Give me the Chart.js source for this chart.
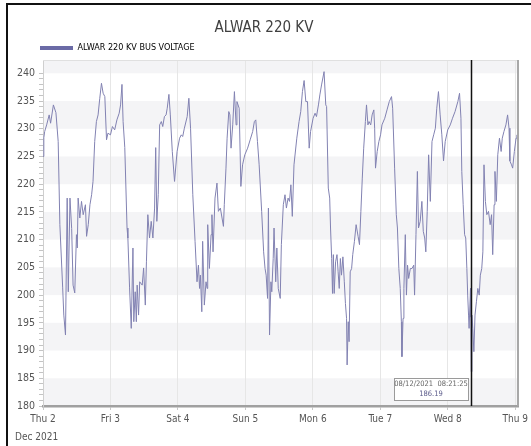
<!DOCTYPE html>
<html>
<head>
<meta charset="utf-8">
<title>ALWAR 220 KV</title>
<script src="https://cdn.jsdelivr.net/npm/chart.js@4.4.0/dist/chart.umd.min.js"></script>
<style>
  html, body { margin: 0; padding: 0; background: #fff; }
  #wrap { position: relative; width: 531px; height: 446px; }
  /* black edge of the screenshot (left + top only) */
  #frame { position: absolute; left: 6px; top: 3px; right: 0; bottom: 0;
           border-left: 2px solid #111; border-top: 2px solid #111; pointer-events: none; }
</style>
</head>
<body>
<div id="wrap">
  <canvas id="voltageChart"></canvas>
  <div id="frame"></div>
</div>
<script>
// --- Data (hours counted from Thu 02/12/2021 00:00) ---
const seriesName = "ALWAR 220 KV BUS VOLTAGE";
const dayTicks = [0, 24, 48, 72, 96, 120, 144, 168];
const dayLabels = ["Thu 2", "Fri 3", "Sat 4", "Sun 5", "Mon 6", "Tue 7", "Wed 8", "Thu 9"];
const monthLabel = "Dec 2021";
const yLabels = [180, 185, 190, 195, 200, 205, 210, 215, 220, 225, 230, 235, 240];

const hours = [
  0.0, 0.3, 0.6, 1.3, 2.2, 2.7, 3.7, 4.6, 5.4, 6.0, 7.0, 7.4, 8.0, 8.6, 9.0, 9.6, 10.2, 10.7, 11.3, 11.9,
  12.2, 12.5, 13.1, 13.7, 14.3, 15.1, 15.5, 16.1, 16.7, 17.3, 17.8, 18.4, 19.0, 19.6, 20.2, 20.8, 21.4, 22.0, 22.6, 23.1,
  24.0, 24.7, 25.5, 26.3, 27.1, 27.6, 28.1, 28.5, 29.1, 29.9, 30.2, 30.8, 31.4, 32.0, 32.3, 32.8, 33.2, 33.5, 34.0, 34.4,
  35.3, 35.8, 36.4, 36.8, 37.3, 37.9, 38.5, 39.1, 39.7, 40.1, 40.5, 41.0, 41.5, 42.1, 42.6, 43.2, 43.8, 44.2, 44.8, 45.3,
  46.0, 46.8, 47.7, 48.6, 49.2, 49.7, 50.3, 51.3, 51.9, 52.5, 53.3, 54.1, 54.8, 55.3, 55.7, 56.0, 56.5, 56.8, 57.4, 58.0,
  58.4, 58.6, 59.2, 59.8, 60.1, 60.5, 61.2, 61.9, 62.4, 63.1, 63.7, 64.2, 64.5, 65.1, 65.5, 66.1, 66.5, 66.9, 67.5, 68.1,
  68.7, 69.0, 69.8, 70.4, 71.0, 71.8, 72.8, 73.7, 74.6, 75.2, 75.7, 76.3, 76.9, 77.8, 78.5, 79.0, 79.4, 79.9, 80.2, 80.6,
  81.1, 81.4, 81.9, 82.2, 82.8, 83.2, 83.7, 84.4, 84.8, 85.5, 86.1, 86.6, 87.2, 87.7, 88.2, 88.7, 89.3, 90.3, 91.1, 91.7,
  92.3, 92.9, 93.5, 94.1, 94.7, 95.2, 96.1, 96.8, 97.3, 98.0, 98.5, 99.1, 100.0, 100.6, 100.9, 101.5, 102.0, 102.3, 102.7, 103.0,
  103.3, 103.6, 104.1, 104.6, 105.0, 105.4, 105.8, 106.2, 106.7, 107.2, 107.6, 108.0, 108.2, 108.6, 108.9, 109.3, 109.8, 110.2, 110.8, 111.4,
  112.1, 112.6, 113.1, 113.6, 114.1, 114.7, 115.1, 115.6, 116.0, 116.6, 117.1, 117.7, 118.0, 118.3, 118.9, 119.5, 120.1, 120.6, 121.6, 122.4,
  123.2, 124.0, 124.4, 125.1, 125.7, 126.1, 126.6, 127.1, 127.5, 127.7, 128.1, 128.4, 128.9, 129.3, 129.7, 130.1, 130.7, 131.3, 131.9, 132.2,
  132.7, 133.2, 133.6, 134.2, 134.8, 135.3, 135.8, 136.2, 136.7, 137.2, 137.8, 138.4, 139.0, 139.6, 140.1, 140.7, 141.3, 141.9, 142.5, 143.1,
  144.0, 144.9, 145.7, 146.6, 147.6, 148.2, 148.7, 149.0, 149.5, 150.0, 150.4, 150.8, 151.1, 151.4, 151.6, 152.1, 152.25, 152.36, 152.6, 152.9,
  153.3, 153.7, 154.2, 154.7, 155.2, 155.6, 156.1, 156.5, 156.9, 157.4, 157.9, 158.5, 159.1, 159.6, 160.0, 160.5, 160.8, 161.3, 161.8, 162.4,
  163.0, 163.4, 164.0, 164.7, 165.3, 165.8, 166.1, 166.7, 167.1, 167.7, 168.3, 168.6
];
const voltage = [
  225.0, 228.4, 229.5, 230.7, 232.5, 231.0, 234.3, 232.9, 227.7, 212.7, 201.3, 196.4, 192.8, 217.5, 200.6, 217.5, 212.0, 201.8, 200.4, 210.9,
  208.5, 217.5, 213.9, 216.9, 214.5, 216.3, 210.6, 212.7, 216.3, 218.1, 220.5, 227.7, 231.3, 232.5, 235.5, 238.2, 236.4, 235.8, 228.0, 229.2,
  228.9, 230.4, 229.8, 231.6, 232.8, 234.3, 238.0, 231.3, 226.6, 212.1, 210.3, 201.3, 194.0, 208.5, 195.2, 200.6, 195.2, 201.8, 196.4, 202.4,
  201.8, 204.9, 198.2, 206.0, 214.5, 210.3, 213.3, 210.3, 215.7, 226.6, 213.3, 218.1, 230.7, 231.3, 230.4, 232.2, 232.5, 233.7, 236.2, 232.5,
  225.9, 220.5, 225.9, 228.3, 228.9, 228.6, 230.1, 232.2, 235.5, 230.1, 218.1, 209.7, 202.4, 205.4, 201.2, 203.6, 197.0, 209.7, 198.2, 202.4,
  201.2, 212.7, 204.8, 210.9, 214.5, 207.8, 217.5, 220.2, 215.1, 215.7, 213.9, 212.4, 216.3, 222.9, 228.3, 233.1, 232.5, 226.5, 230.7, 236.7,
  230.7, 234.9, 233.7, 219.6, 223.5, 225.3, 226.5, 228.0, 229.5, 231.3, 231.6, 227.7, 223.5, 215.1, 207.8, 204.8, 203.6, 199.4, 215.7, 192.8,
  202.4, 200.6, 206.6, 212.1, 202.4, 208.5, 201.2, 199.4, 209.1, 216.3, 218.1, 215.7, 217.5, 216.9, 219.9, 214.2, 223.5, 228.3, 231.3, 233.1,
  236.7, 238.7, 234.9, 234.9, 226.5, 229.5, 231.9, 232.8, 232.2, 234.3, 236.1, 237.9, 240.3, 234.3, 234.0, 219.3, 217.5, 212.1, 206.6, 200.3,
  207.3, 200.3, 206.0, 207.3, 204.2, 201.2, 206.6, 203.6, 206.9, 202.4, 198.5, 195.8, 187.4, 195.2, 191.6, 204.2, 204.8, 207.3, 209.7, 212.7,
  210.6, 209.1, 215.1, 221.1, 226.5, 231.3, 234.3, 230.7, 231.3, 230.7, 232.5, 233.4, 230.1, 222.9, 225.9, 227.7, 228.9, 230.7, 231.9, 233.4,
  234.9, 235.8, 233.7, 222.9, 214.5, 212.1, 204.8, 201.2, 195.2, 188.9, 195.8, 201.2, 210.9, 200.0, 205.4, 203.0, 204.8, 204.8, 205.4, 200.0,
  210.9, 222.3, 212.1, 213.3, 216.9, 211.5, 210.3, 207.8, 215.1, 225.3, 216.9, 227.7, 228.9, 230.1, 233.7, 236.7, 232.5, 228.9, 224.2, 227.7,
  229.8, 230.7, 231.9, 233.1, 234.9, 236.4, 231.9, 222.3, 216.3, 210.9, 210.3, 204.8, 200.0, 196.4, 194.0, 201.2, 196.0, 186.19, 196.4, 194.0,
  189.8, 196.4, 198.8, 201.2, 200.0, 203.6, 204.8, 207.8, 223.5, 216.9, 214.5, 215.1, 212.7, 214.5, 207.3, 216.3, 222.3, 216.9, 225.3, 228.3,
  225.9, 228.3, 229.5, 230.7, 232.5, 230.1, 224.2, 223.5, 222.9, 225.9, 228.3, 228.9
];

// crosshair readout shown in the reference
const cursorHour = 152.36;            // 08/12/2021 08:21:25
const cursorTime = "08/12/2021  08:21:25";
const cursorValue = "186.19";

const FONT = "'DejaVu Sans Condensed', 'Liberation Sans', sans-serif";
Chart.defaults.font.family = FONT;
Chart.defaults.color = "#555";

// alternating light bands behind the plot (every other 5 kV step)
const bandPlugin = {
  id: "bands",
  afterLayout(chart) {
    // legend sits just above the plot, starting near the y axis
    chart.legend.left = 36;
    chart.legend.top = 39.5;
  },
  beforeDraw(chart) {
    const { ctx, chartArea: a, scales: { y } } = chart;
    ctx.save();
    ctx.fillStyle = "#f4f4f6";
    for (let v = yLabels[0]; v < y.max; v += 10) {
      const top = y.getPixelForValue(Math.min(v + 5, y.max));
      const bottom = y.getPixelForValue(v);
      ctx.fillRect(a.left, top, a.right - a.left, bottom - top);
    }
    ctx.restore();
  }
};

// plot frame, crosshair line and its readout box
const cursorPlugin = {
  id: "cursor",
  afterDatasetsDraw(chart) {
    const { ctx, chartArea: a, scales: { x } } = chart;
    const cx = Math.round(x.getPixelForValue(cursorHour)) + 0.5;
    ctx.save();
    ctx.strokeStyle = "#e0e0e0";
    ctx.lineWidth = 1;
    ctx.beginPath();
    ctx.moveTo(a.left, a.top + 0.5);
    ctx.lineTo(a.right, a.top + 0.5);
    ctx.stroke();
    ctx.strokeStyle = "#a8a8a8";
    ctx.lineWidth = 2;
    ctx.beginPath();
    ctx.moveTo(a.right, a.top);
    ctx.lineTo(a.right, a.bottom);
    ctx.stroke();

    ctx.strokeStyle = "#111";
    ctx.lineWidth = 1.5;
    ctx.beginPath();
    ctx.moveTo(cx, a.top);
    ctx.lineTo(cx, a.bottom);
    ctx.stroke();

    const bw = 74, bh = 22;
    const bx = Math.round(cx - 4 - bw), by = Math.round(a.bottom - 6 - bh);
    ctx.fillStyle = "#fff";
    ctx.fillRect(bx, by, bw, bh);
    ctx.strokeStyle = "#9a9a9a";
    ctx.lineWidth = 1;
    ctx.strokeRect(bx + 0.5, by + 0.5, bw, bh);
    ctx.font = "7.5px " + FONT;
    ctx.textAlign = "center";
    ctx.textBaseline = "middle";
    ctx.fillStyle = "#666";
    ctx.fillText(cursorTime, bx + bw / 2, by + 6.5);
    ctx.fillStyle = "#5a5a8a";
    ctx.fillText(cursorValue, bx + bw / 2, by + 16);
    ctx.restore();
  },
  afterDraw(chart) {
    // second line under the first x label
    const { ctx, scales: { x } } = chart;
    ctx.save();
    ctx.font = "10px " + FONT;
    ctx.fillStyle = "#555";
    ctx.textAlign = "left";
    ctx.textBaseline = "middle";
    ctx.fillText(monthLabel, x.getPixelForValue(dayTicks[0]) - 28, 437);
    ctx.restore();
  }
};

const ctx = document.getElementById("voltageChart").getContext("2d");
new Chart(ctx, {
  type: "line",
  data: {
    datasets: [{
      label: seriesName,
      data: hours.map((h, i) => ({ x: h, y: voltage[i] })),
      borderColor: "#8282b2",
      backgroundColor: "#6b6ba6",
      borderWidth: 1,
      pointRadius: 0,
      tension: 0,
      fill: false
    }]
  },
  options: {
    responsive: true,
    maintainAspectRatio: false,
    animation: false,
    events: [],
    layout: { padding: { top: 19, left: 8, right: 11, bottom: 0 } },
    plugins: {
      title: {
        display: true,
        text: "ALWAR 220 KV",
        color: "#404040",
        font: { size: 15, weight: "normal" },
        padding: 0
      },
      legend: {
        align: "start",
        labels: {
          boxWidth: 33,
          boxHeight: 4,
          padding: 4,
          color: "#444",
          font: { size: 9 },
          generateLabels: () => [{
            text: seriesName, fillStyle: "#6b6ba6", strokeStyle: "#6b6ba6",
            lineWidth: 0, hidden: false, datasetIndex: 0
          }]
        }
      },
      tooltip: { enabled: false }
    },
    scales: {
      x: {
        type: "linear",
        min: 0,
        max: 169,
        afterBuildTicks: s => { s.ticks = dayTicks.map(v => ({ value: v })); },
        afterFit: s => { s.height = 40; },
        ticks: {
          autoSkip: false,
          maxRotation: 0,
          padding: 3,
          color: "#555",
          font: { size: 10 },
          callback: v => dayLabels[dayTicks.indexOf(v)]
        },
        grid: { color: "#e6e6e6", tickColor: "#c8c8c8", tickLength: 4 },
        border: { color: "#a0a0a0", width: 2.5 }
      },
      y: {
        min: 180,
        max: 242.4,
        afterBuildTicks: s => {
          const t = [];
          for (let v = yLabels[0]; v <= yLabels[yLabels.length - 1]; v++) t.push({ value: v });
          s.ticks = t;
        },
        afterFit: s => { s.width = 35; },
        ticks: {
          autoSkip: false,
          padding: 4,
          color: "#555",
          font: { size: 10.5 },
          callback: v => (yLabels.includes(v) ? String(v) : "")
        },
        grid: { color: "transparent", tickColor: "#c4c4c4", tickLength: 4 },
        border: { color: "#cfcfcf", width: 1 }
      }
    }
  },
  plugins: [bandPlugin, cursorPlugin]
});
</script>
</body>
</html>
